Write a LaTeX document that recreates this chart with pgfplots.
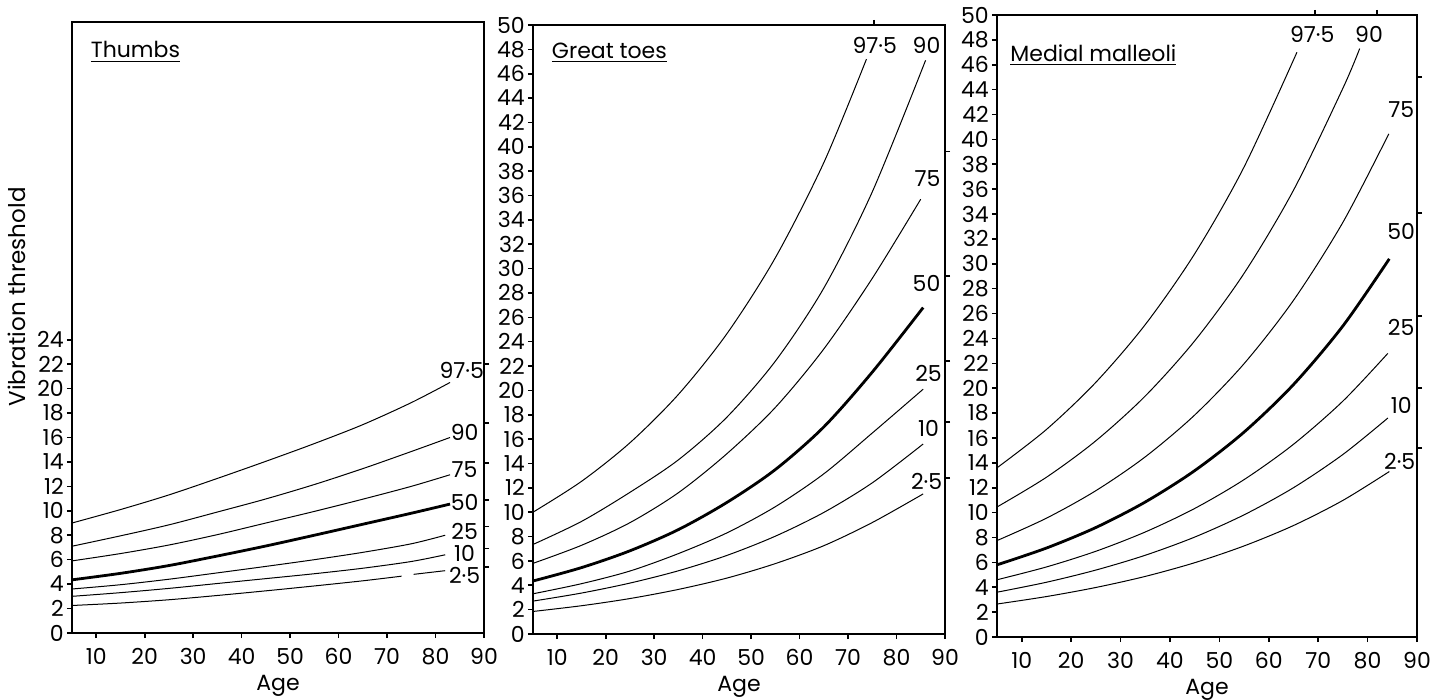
\documentclass[border=0pt]{standalone}
\usepackage{pgfplots}
\pgfplotsset{compat=1.18}
\usepackage{fontspec}
\setmainfont{Poppins}
\begin{document}
\begin{tikzpicture}[x=1pt,y=1pt]
\pgfplotsset{
 panel/.style={scale only axis, xmin=5, xmax=90, ymin=0, ymax=50,
   axis line style={line width=1pt}, tick align=outside, tick pos=left,
   major tick length=2.6pt, every tick/.style={line width=0.8pt, black},
   xtick={10,20,...,90}, /pgf/number format/assume math mode=true,
   tick label style={font=\fontsize{11}{12}\selectfont},
   yticklabel style={xshift=2pt},
   xticklabel style={yshift=-1.5pt},
   xlabel={Age}, xlabel style={font=\fontsize{11}{12}\selectfont, yshift=1.5pt},
   clip=false},
 marks/.style={scale only axis, xmin=5, xmax=90, ymin=0, ymax=50,
   axis line style={draw=none}, tick align=outside, xtick pos=right, ytick pos=right,
   xticklabels={}, yticklabels={}, major tick length=2.6pt,
   every tick/.style={line width=0.8pt, black}},
 pct/.style={black, line width=0.5pt, smooth, no markers},
 med/.style={black, line width=1.4pt, smooth, no markers},
}
\tikzset{
 lab/.style={font=\fontsize{11}{12}\selectfont, inner sep=0pt},
 ttl/.style={font=\fontsize{11}{12}\selectfont, anchor=west, inner sep=0pt},
}
% ---------------- Panel 1: Thumbs ----------------
\begin{axis}[panel, at={(0pt,0pt)}, anchor=south west, width=206pt, height=305.5pt,
  ytick={0,2,...,24}, ylabel={Vibration threshold},
  ylabel style={font=\fontsize{11.5}{12}\selectfont, at={(axis description cs:-0.133,0.55)}, anchor=center}]
\addplot[pct] coordinates {(5,9.0) (15,10.1) (25,11.3) (35,12.65) (45,14.05) (55,15.5) (65,17.05) (75,18.85) (83,20.5)};
\addplot[pct] coordinates {(5,7.1) (15,7.95) (25,8.85) (35,9.9) (45,10.97) (55,12.15) (65,13.45) (75,14.85) (83,16.0)};
\addplot[pct] coordinates {(5,5.9) (15,6.5) (25,7.2) (35,8.05) (45,9.0) (55,9.95) (65,10.95) (75,12.0) (83,12.95)};
\addplot[med] coordinates {(5,4.35) (15,4.88) (25,5.52) (35,6.3) (45,7.12) (55,8.0) (65,8.9) (75,9.8) (83,10.55)};
\addplot[pct] coordinates {(5,3.6) (15,3.95) (25,4.4) (35,4.92) (45,5.45) (55,6.0) (65,6.6) (75,7.3) (82,8.0)};
\addplot[pct] coordinates {(5,3.0) (15,3.3) (25,3.65) (35,4.05) (45,4.45) (55,4.85) (65,5.3) (75,5.85) (82,6.4)};
\addplot[pct] coordinates {(5,2.25) (15,2.45) (25,2.72) (35,3.07) (45,3.45) (55,3.85) (65,4.27) (73,4.65)};
\addplot[pct] coordinates {(75.5,4.8) (82,5.1)};
\node[ttl] at (rel axis cs:0.045,0.951) {\underline{Thumbs}};
\node[lab] at (axis cs:85.4,21.5) {97·5};
\node[lab] at (axis cs:86,16.4) {90};
\node[lab] at (axis cs:86,13.4) {75};
\node[lab] at (axis cs:86,10.7) {50};
\node[lab] at (axis cs:86,8.3) {25};
\node[lab] at (axis cs:86,6.5) {10};
\node[lab] at (axis cs:86,4.7) {2·5};
\end{axis}
\begin{axis}[marks, at={(0pt,0pt)}, anchor=south west, width=206pt, height=305.5pt,
  xtick=\empty, ytick={5.4,6.9,8.7,10.9,13.9,17.2,22.0}]
\end{axis}
% ---------------- Panel 2: Great toes ----------------
\begin{axis}[panel, at={(230.5pt,-0.5pt)}, anchor=south west, width=206pt, height=304.5pt,
  ytick={0,2,...,50}]
\addplot[pct] coordinates {(5,10.0) (15,12.53) (25,15.7) (35,19.67) (45,24.65) (55,30.89) (65,38.7) (73.8,47.2)};
\addplot[pct] coordinates {(5,7.35) (15,9.24) (25,11.63) (35,14.3) (45,17.8) (55,22.4) (65,28.4) (75,36.3) (86,47.1)};
\addplot[pct] coordinates {(5,5.8) (15,7.28) (25,9.14) (35,11.6) (45,14.8) (55,18.6) (65,23.4) (75,29.2) (85,35.7)};
\addplot[med] coordinates {(5,4.35) (15,5.45) (25,6.83) (35,8.57) (45,10.8) (55,13.5) (65,17.0) (75,21.5) (85.5,26.8)};
\addplot[pct] coordinates {(5,3.3) (15,4.13) (25,5.17) (35,6.6) (45,8.3) (55,10.45) (65,13.15) (75,16.5) (85.5,20.1)};
\addplot[pct] coordinates {(5,2.7) (15,3.36) (25,4.18) (35,5.19) (45,6.45) (55,8.03) (65,9.98) (75,12.41) (85.5,15.6)};
\addplot[pct] coordinates {(5,1.85) (15,2.32) (25,2.91) (35,3.66) (45,4.59) (55,5.78) (65,7.25) (75,9.15) (85.5,11.5)};
\node[ttl] at (rel axis cs:0.045,0.955) {\underline{Great toes}};
\node[lab] at (axis cs:75.5,48.3) {97·5};
\node[lab] at (axis cs:86.2,48.3) {90};
\node[lab] at (axis cs:86.4,37.4) {75};
\node[lab] at (axis cs:86.2,28.8) {50};
\node[lab] at (axis cs:86.6,21.4) {25};
\node[lab] at (axis cs:86.6,16.9) {10};
\node[lab] at (axis cs:86.2,12.5) {2·5};
\end{axis}
\begin{axis}[marks, at={(230.5pt,-0.5pt)}, anchor=south west, width=206pt, height=304.5pt,
  xtick={75.3}, ytick={12.8,17.4,22.4,29.4,39.6}]
\end{axis}
% ---------------- Panel 3: Medial malleoli ----------------
\begin{axis}[panel, at={(462.5pt,-2pt)}, anchor=south west, width=210pt, height=311pt,
  ytick={0,2,...,50}]
\addplot[pct] coordinates {(5,13.6) (15,16.68) (25,20.47) (35,25.11) (45,30.8) (55,37.78) (65.7,47.0)};
\addplot[pct] coordinates {(5,10.45) (15,12.84) (25,15.77) (35,19.37) (45,23.8) (55,29.23) (65,35.91) (75,44.11) (78.4,47.3)};
\addplot[pct] coordinates {(5,7.75) (15,9.55) (25,11.76) (35,14.48) (45,17.84) (55,21.97) (65,27.06) (75,33.33) (84.3,40.45)};
\addplot[med] coordinates {(5,5.8) (15,7.15) (25,8.8) (35,10.85) (45,13.37) (55,16.47) (65,20.29) (75,25.0) (84.4,30.4)};
\addplot[pct] coordinates {(5,4.6) (15,5.63) (25,6.89) (35,8.44) (45,10.33) (55,12.65) (65,15.49) (75,18.96) (84.1,22.8)};
\addplot[pct] coordinates {(5,3.6) (15,4.4) (25,5.38) (35,6.57) (45,8.03) (55,9.82) (65,12.0) (75,14.67) (84.1,17.6)};
\addplot[pct] coordinates {(5,2.65) (15,3.25) (25,3.98) (35,4.87) (45,5.97) (55,7.32) (65,8.96) (75,10.98) (84.4,13.3)};
\node[ttl] at (rel axis cs:0.031,0.936) {\underline{Medial malleoli}};
\node[lab] at (axis cs:68.8,48.4) {97·5};
\node[lab] at (axis cs:80.3,48.4) {90};
\node[lab] at (axis cs:86.8,42.4) {75};
\node[lab] at (axis cs:86.8,32.6) {50};
\node[lab] at (axis cs:86.8,24.9) {25};
\node[lab] at (axis cs:86.8,18.6) {10};
\node[lab] at (axis cs:86.5,14.1) {2·5};
\end{axis}
\begin{axis}[marks, at={(462.5pt,-2pt)}, anchor=south west, width=210pt, height=311pt,
  xtick={69.4,81.9}, ytick={15.2,20.0,25.8,34.1,45.0}]
\end{axis}
\pgfresetboundingbox
\useasboundingbox (-36pt,-33.5pt) rectangle (685pt,316.5pt);
\end{tikzpicture}
\end{document}
